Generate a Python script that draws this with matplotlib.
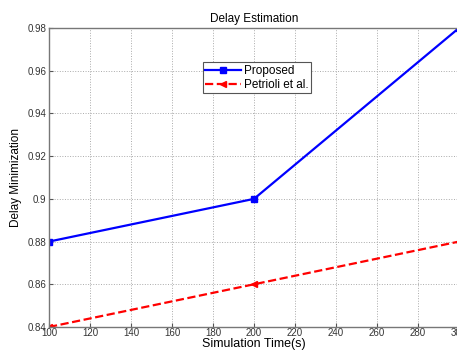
import matplotlib.pyplot as plt

plt.rcParams['font.family'] = ['Liberation Sans', 'DejaVu Sans']

# simulation time (s) and delay values for both schemes
sim_time = [100, 200, 300]
proposed = [0.88, 0.90, 0.98]
petrioli = [0.84, 0.86, 0.88]

fig = plt.figure(figsize=(4.57, 3.53), dpi=100)
ax = fig.add_axes([49 / 457, 26 / 353, 410 / 457, 299 / 353])

ax.plot(sim_time, proposed, color='#0000ff', lw=1.6, marker='s', ms=5,
        label='Proposed')
ax.plot(sim_time, petrioli, color='#ff0000', lw=1.6, ls='--', marker='<', ms=5,
        label='Petrioli et al.')

ax.set_xlim(100, 300)
ax.set_ylim(0.84, 0.98)
ax.set_xticks(range(100, 301, 20))
ax.set_yticks([0.84, 0.86, 0.88, 0.9, 0.92, 0.94, 0.96, 0.98])
ax.set_yticklabels(['0.84', '0.86', '0.88', '0.9', '0.92', '0.94', '0.96', '0.98'])
ax.tick_params(direction='in', labelsize=7, labelcolor='#333333', length=3,
               color='#555555', pad=2)
ax.tick_params(axis='x', pad=1)
ax.grid(True, ls=':', color='#aaaaaa', lw=0.7)
for s in ax.spines.values():
    s.set_color('#777777')
    s.set_linewidth(1.0)

ax.set_title('Delay Estimation', fontsize=8.5, pad=4)
ax.set_xlabel('Simulation Time(s)', fontsize=9, labelpad=0)
ax.set_ylabel('Delay Minimization', fontsize=8.5, labelpad=4)

leg = ax.legend(loc='upper left', bbox_to_anchor=(0.375, 0.885), fontsize=8.5,
                fancybox=False, framealpha=1, edgecolor='#555555',
                borderpad=0.2, handlelength=3, labelspacing=0.2,
                handletextpad=0.3, borderaxespad=0)
leg.get_frame().set_linewidth(0.8)

fig.savefig('out.png', dpi=100)
